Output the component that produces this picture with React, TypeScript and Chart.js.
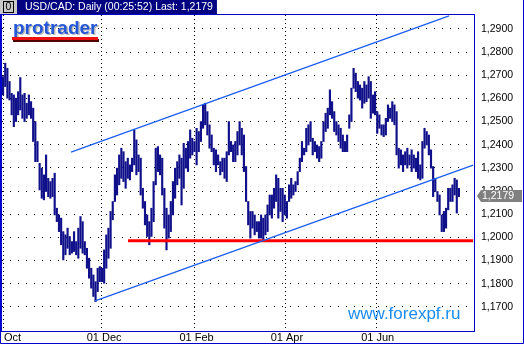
import { useEffect, useRef } from 'react';
import { Chart, registerables } from 'chart.js';
Chart.register(...registerables);

const titleText = 'USD/CAD: Daily (00:25:52) Last: 1,2179';
const lastPrice = 1.2179;

const highs = [
  1.2694, 1.2752, 1.2730, 1.2673, 1.2622, 1.2615, 1.2601, 1.2629, 1.2690, 1.2615,
  1.2622, 1.2579, 1.2615, 1.2586, 1.2558, 1.2500, 1.2414, 1.2320, 1.2299, 1.2270,
  1.2356, 1.2255, 1.2241, 1.2255, 1.2277, 1.2126, 1.2097, 1.2083, 1.2025, 1.2011,
  1.2040, 1.2004, 1.1982, 1.2025, 1.1982, 1.2040, 1.2090, 1.2068, 1.1982, 1.1953,
  1.1910, 1.1867, 1.1838, 1.1809, 1.1867, 1.1874, 1.1867, 1.1946, 1.2011, 1.2040,
  1.2112, 1.2155, 1.2270, 1.2299, 1.2356, 1.2385, 1.2370, 1.2327, 1.2342, 1.2313,
  1.2342, 1.2464, 1.2421, 1.2356, 1.2342, 1.2212, 1.2155, 1.2097, 1.2068, 1.2126,
  1.2241, 1.2385, 1.2392, 1.2356, 1.2342, 1.2212, 1.2126, 1.2097, 1.2155, 1.2241,
  1.2299, 1.2327, 1.2356, 1.2342, 1.2406, 1.2385, 1.2414, 1.2464, 1.2428, 1.2414,
  1.2471, 1.2457, 1.2500, 1.2572, 1.2579, 1.2543, 1.2486, 1.2442, 1.2385, 1.2378,
  1.2356, 1.2327, 1.2342, 1.2342, 1.2370, 1.2500, 1.2414, 1.2399, 1.2414, 1.2457,
  1.2500, 1.2471, 1.2442, 1.2306, 1.2155, 1.2112, 1.2112, 1.2097, 1.2068, 1.2068,
  1.2097, 1.2083, 1.2097, 1.2140, 1.2183, 1.2183, 1.2212, 1.2270, 1.2255, 1.2212,
  1.2212, 1.2183, 1.2155, 1.2227, 1.2255, 1.2227, 1.2241, 1.2284, 1.2342, 1.2414,
  1.2385, 1.2471, 1.2486, 1.2500, 1.2428, 1.2414, 1.2399, 1.2392, 1.2414, 1.2500,
  1.2536, 1.2558, 1.2637, 1.2586, 1.2543, 1.2500, 1.2486, 1.2471, 1.2442, 1.2414,
  1.2442, 1.2529, 1.2644, 1.2730, 1.2709, 1.2673, 1.2658, 1.2644, 1.2673, 1.2658,
  1.2694, 1.2673, 1.2615, 1.2629, 1.2543, 1.2529, 1.2486, 1.2486, 1.2514, 1.2572,
  1.2558, 1.2586, 1.2572, 1.2543, 1.2385, 1.2378, 1.2356, 1.2370, 1.2385, 1.2356,
  1.2378, 1.2356, 1.2342, 1.2370, 1.2313, 1.2414, 1.2471, 1.2457, 1.2442, 1.2378,
  1.2306, 1.2255, 1.2198, 1.2183, 1.2097, 1.2112, 1.2126, 1.2212, 1.2212, 1.2227,
  1.2255, 1.2248, 1.2212,
];

const lows = [
  1.2615, 1.2651, 1.2601, 1.2593, 1.2529, 1.2478, 1.2500, 1.2529, 1.2550, 1.2514,
  1.2500, 1.2514, 1.2529, 1.2514, 1.2414, 1.2327, 1.2327, 1.2205, 1.2169, 1.2162,
  1.2198, 1.2176, 1.2169, 1.2176, 1.2097, 1.2068, 1.2025, 1.1968, 1.1903, 1.1925,
  1.1953, 1.1925, 1.1932, 1.1939, 1.1925, 1.1910, 1.1953, 1.1932, 1.1925, 1.1867,
  1.1824, 1.1781, 1.1745, 1.1723, 1.1766, 1.1809, 1.1809, 1.1802, 1.1867, 1.1910,
  1.1953, 1.2076, 1.2155, 1.2183, 1.2227, 1.2255, 1.2241, 1.2212, 1.2255, 1.2248,
  1.2284, 1.2313, 1.2270, 1.2284, 1.2183, 1.2126, 1.2054, 1.2004, 1.1968, 1.2004,
  1.2068, 1.2227, 1.2284, 1.2270, 1.2183, 1.2040, 1.1946, 1.1997, 1.2025, 1.2097,
  1.2169, 1.2227, 1.2255, 1.2140, 1.2212, 1.2299, 1.2284, 1.2342, 1.2356, 1.2370,
  1.2313, 1.2370, 1.2414, 1.2471, 1.2486, 1.2442, 1.2385, 1.2370, 1.2313, 1.2284,
  1.2313, 1.2270, 1.2284, 1.2255, 1.2241, 1.2356, 1.2370, 1.2327, 1.2327, 1.2356,
  1.2399, 1.2356, 1.2284, 1.2155, 1.2054, 1.1997, 1.2040, 1.2011, 1.2025, 1.1997,
  1.1997, 1.1982, 1.2011, 1.2025, 1.2097, 1.2083, 1.2126, 1.2155, 1.2083, 1.2112,
  1.2068, 1.2097, 1.2083, 1.2155, 1.2169, 1.2183, 1.2198, 1.2227, 1.2284, 1.2327,
  1.2356, 1.2370, 1.2399, 1.2414, 1.2356, 1.2370, 1.2342, 1.2327, 1.2342, 1.2414,
  1.2457, 1.2471, 1.2529, 1.2514, 1.2457, 1.2442, 1.2414, 1.2385, 1.2370, 1.2370,
  1.2370, 1.2471, 1.2500, 1.2644, 1.2629, 1.2601, 1.2593, 1.2558, 1.2579, 1.2586,
  1.2601, 1.2514, 1.2536, 1.2529, 1.2449, 1.2471, 1.2442, 1.2435, 1.2442, 1.2500,
  1.2514, 1.2500, 1.2486, 1.2356, 1.2299, 1.2313, 1.2284, 1.2313, 1.2299, 1.2313,
  1.2284, 1.2299, 1.2284, 1.2255, 1.2248, 1.2255, 1.2385, 1.2399, 1.2356, 1.2299,
  1.2176, 1.2198, 1.2155, 1.2097, 1.2025, 1.2025, 1.2040, 1.2119, 1.2155, 1.2155,
  1.2183, 1.2105, 1.2176,
];

// month grid lines (bar index) and label centres
const monthGridIdx = [0, 45.6, 88.8, 131.2, 173.5];
const monthLabelIdx = [4.4, 47, 90, 132, 174.2];
const monthLabels = ['Oct', '01 Dec', '01 Feb', '01 Apr', '01 Jun'];
const priceTicks = [1.17, 1.18, 1.19, 1.2, 1.21, 1.22, 1.23, 1.24, 1.25, 1.26, 1.27, 1.28, 1.29];

const upperChannel = [{ x: 31.6, y: 1.2368 }, { x: 207.4, y: 1.2956 }];
const lowerChannel = [{ x: 42.8, y: 1.1726 }, { x: 218.6, y: 1.2312 }];
const supportLine = [{ x: 58.1, y: 1.1986 }, { x: 218.6, y: 1.1986 }];

const FRAME = '#0000cc';
const BAR = '#10108a';
const TREND = '#1a5cf0';
const FONT = '"Liberation Sans", Arial, sans-serif';

export default function App() {
  const ref = useRef<HTMLCanvasElement>(null);
  useEffect(() => {
    document.body.style.margin = '0';
    const canvas = ref.current!;
    const decor = {
      id: 'decor',
      beforeDraw(chart: any) {
        const c = chart.ctx;
        c.save();
        c.fillStyle = '#fff';
        c.fillRect(0, 0, chart.width, chart.height);
        c.restore();
      },
      afterDraw(chart: any) {
        const c = chart.ctx as CanvasRenderingContext2D;
        const a = chart.chartArea;
        const xs = chart.scales.x;
        const ys = chart.scales.y;
        c.save();
        // watermark
        c.font = `17px ${FONT}`;
        c.fillStyle = '#1a8cf0';
        c.textBaseline = 'alphabetic';
        c.textAlign = 'left';
        c.fillText('www.forexpf.ru', 348, 319);
        // plot border
        c.strokeStyle = FRAME;
        c.lineWidth = 1;
        c.strokeRect(a.left - 0.5, a.top - 0.5, a.right - a.left + 1, a.bottom - a.top + 1);
        // outer frame
        c.beginPath();
        c.moveTo(0.5, 14);
        c.lineTo(0.5, 343.5);
        c.lineTo(523.5, 343.5);
        c.lineTo(523.5, 0);
        c.stroke();
        // title bar
        c.font = `10.5px ${FONT}`;
        const tw = c.measureText(titleText).width;
        c.fillStyle = '#c8c8c8';
        c.fillRect(0, 0, 17, 14);
        c.strokeStyle = '#000';
        c.strokeRect(3.5, 1.5, 10, 11);
        c.fillStyle = '#000';
        c.textBaseline = 'middle';
        c.fillText('0', 5.5, 7.5);
        c.fillStyle = '#000080';
        c.fillRect(17, 0, tw + 12, 14);
        c.fillStyle = '#fff';
        c.fillText(titleText, 25, 7.5);
        // logo
        c.font = `bold 19px ${FONT}`;
        c.textBaseline = 'alphabetic';
        c.fillStyle = '#b8b8b8';
        c.fillText('protrader', 14.5, 35);
        c.fillStyle = '#2456d8';
        c.fillText('protrader', 13, 33.5);
        c.fillStyle = '#500000';
        c.fillRect(13, 39, 86, 3);
        c.fillStyle = '#ee1010';
        c.fillRect(12, 37, 86, 3);
        // x labels
        c.font = `11px ${FONT}`;
        c.fillStyle = '#000';
        c.textBaseline = 'middle';
        c.textAlign = 'center';
        monthLabels.forEach((l, i) => {
          c.fillText(l, xs.getPixelForValue(monthLabelIdx[i]), 337.5);
        });
        // last price tag
        const py = ys.getPixelForValue(lastPrice);
        c.fillStyle = '#808080';
        c.beginPath();
        c.moveTo(477, py);
        c.lineTo(481, py - 6);
        c.lineTo(522, py - 6);
        c.lineTo(522, py + 6);
        c.lineTo(481, py + 6);
        c.closePath();
        c.fill();
        c.fillStyle = '#fff';
        c.textAlign = 'left';
        c.font = `10.5px ${FONT}`;
        c.fillText(lastPrice.toFixed(4).replace('.', ','), 482, py + 0.5);
        c.restore();
      },
    };

    const lineDs = (data: any[], color: string, width: number) => ({
      type: 'line' as const,
      data,
      borderColor: color,
      borderWidth: width,
      pointRadius: 0,
      fill: false,
      order: 0,
      tension: 0,
    });

    const chart = new Chart(canvas, {
      type: 'bar',
      data: {
        datasets: [
          {
            type: 'bar',
            data: highs.map((h, i) => ({ x: i, y: [lows[i], h] })) as any,
            backgroundColor: BAR,
            borderWidth: 0,
            borderSkipped: false,
            barThickness: 1.5,
            order: 2,
          } as any,
          lineDs(upperChannel, TREND, 1.2),
          lineDs(lowerChannel, TREND, 1.2),
          lineDs(supportLine, '#ff0000', 3),
        ],
      },
      plugins: [decor],
      options: {
        animation: false,
        responsive: false,
        events: [],
        layout: { padding: { left: 2, top: 15, right: 0, bottom: 0 } },
        plugins: { legend: { display: false }, tooltip: { enabled: false } },
        scales: {
          x: {
            type: 'linear',
            min: -0.5,
            max: 219,
            offset: false,
            position: 'bottom',
            afterBuildTicks: (s: any) => {
              s.ticks = monthGridIdx.map((v) => ({ value: v }));
            },
            afterFit: (s: any) => {
              s.height = 14;
            },
            ticks: { display: false },
            grid: { color: '#000', lineWidth: 1, drawTicks: false, offset: false },
            border: { display: false, dash: [1, 3] },
          },
          y: {
            type: 'linear',
            position: 'right',
            min: 1.1596,
            max: 1.296,
            beginAtZero: false,
            afterBuildTicks: (s: any) => {
              s.ticks = priceTicks.map((v) => ({ value: v }));
            },
            afterFit: (s: any) => {
              s.width = 50;
            },
            ticks: {
              color: '#000',
              padding: 7,
              font: { size: 10.5, family: FONT },
              callback: (v: any) => Number(v).toFixed(4).replace('.', ','),
            },
            grid: { color: '#000', lineWidth: 1, drawTicks: false },
            border: { display: false, dash: [1, 7] },
          },
        },
      } as any,
    });
    return () => chart.destroy();
  }, []);
  return (
    <div style={{ width: 524, height: 345 }}>
      <canvas ref={ref} width={524} height={345} style={{ display: 'block' }} />
    </div>
  );
}
